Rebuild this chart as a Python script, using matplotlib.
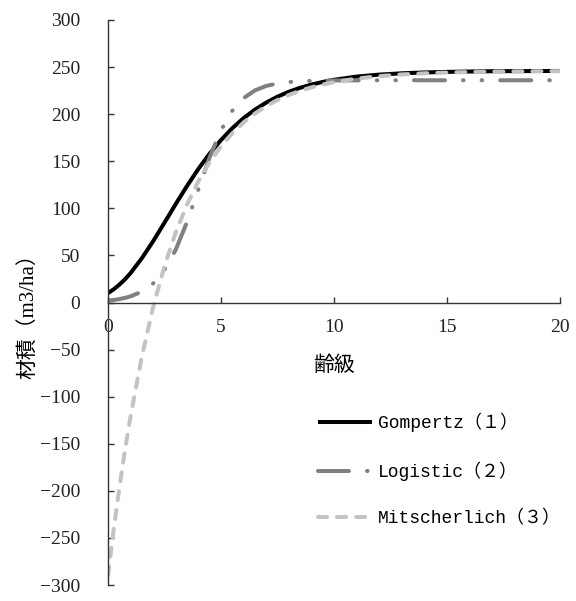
import numpy as np
import matplotlib
matplotlib.use('Agg')
import matplotlib.pyplot as plt
from matplotlib.font_manager import FontProperties

plt.rcParams['lines.scale_dashes'] = False
plt.rcParams['xtick.direction'] = 'in'
plt.rcParams['ytick.direction'] = 'in'
plt.rcParams['xtick.major.pad'] = 12
plt.rcParams['ytick.major.pad'] = 20

# age class
age = np.array([0, 0.25, 0.5, 0.75, 1, 1.5, 2, 2.5, 3, 3.5, 4, 4.5, 5, 5.5, 6, 6.5,
                7, 7.5, 8, 8.5, 9, 9.5, 10, 11, 12, 13, 14, 15, 16, 17, 18, 19, 20])

gompertz = np.array([10.0, 14.0, 18.9, 24.6, 31.3, 47.1, 65.2, 84.8, 104.7, 123.9, 141.9,
                     158.2, 172.5, 185.1, 195.8, 204.8, 212.3, 218.6, 223.8, 228.0, 231.4,
                     234.2, 236.5, 239.9, 242.0, 243.4, 244.3, 244.9, 245.3, 245.6, 245.7,
                     245.8, 245.9])

logistic = np.array([2.0, 2.7, 3.6, 4.9, 6.5, 11.6, 20.3, 34.6, 56.2, 85.7, 120.2, 154.4,
                     182.9, 203.6, 217.0, 225.2, 230.0, 232.6, 234.1, 235.0, 235.4, 235.7,
                     235.8, 235.9, 236.0, 236.0, 236.0, 236.0, 236.0, 236.0, 236.0, 236.0,
                     236.0])

mitscherlich = np.array([-290.0, -241.5, -197.3, -157.1, -120.6, -57.1, -4.7, 38.7, 74.6,
                         104.2, 128.8, 149.0, 165.8, 179.7, 191.2, 200.7, 208.5, 215.0,
                         220.4, 224.8, 228.5, 231.5, 234.0, 237.8, 240.4, 242.2, 243.4,
                         244.2, 244.8, 245.2, 245.4, 245.6, 245.7])

labels = ['Gompertz（１）', 'Logistic（２）', 'Mitscherlich（３）']

xticks = [0, 5, 10, 15, 20]
yticks = np.arange(-300, 301, 50)

tickfont = FontProperties(family=['Liberation Serif', 'Noto Sans CJK JP'], size=14)
labfont = FontProperties(family=['Liberation Serif', 'Noto Sans CJK JP'], size=15)
legfont = FontProperties(family=['Liberation Mono', 'Noto Sans CJK JP'], size=13)

fig = plt.figure(figsize=(5.76, 6.01), dpi=100)
ax = fig.add_axes([108/576, 16/601, 452/576, 565/601])

ax.plot(age, gompertz, color='black', lw=2.9, label=labels[0], solid_capstyle='butt')
ax.plot(age, logistic, color='#808080', lw=2.9, label=labels[1],
        dashes=[22.3, 13, 0.4, 13, 0.4, 13], dash_capstyle='round')
ax.plot(age, mitscherlich, color='#c3c3c3', lw=2.9, label=labels[2],
        dashes=[6.5, 7.2], dash_capstyle='round')

ax.set_xlim(0, 20)
ax.set_ylim(-300, 300)
ax.set_xticks(xticks)
ax.set_yticks(yticks)
ax.spines['top'].set_visible(False)
ax.spines['right'].set_visible(False)
ax.spines['bottom'].set_position(('data', 0))
for s in ('left', 'bottom'):
    ax.spines[s].set_linewidth(1.0)
    ax.spines[s].set_color('#333333')
ax.tick_params(length=4.5, width=1.0, color='#333333')
for lab in ax.get_xticklabels() + ax.get_yticklabels():
    lab.set_fontproperties(tickfont)
    lab.set_color('#222222')

ax.set_xlabel('齢級', fontproperties=labfont)
ax.xaxis.set_label_coords(0.5, 0.404)
ax.set_ylabel('材積（m3/ha）', fontproperties=labfont)
ax.yaxis.set_label_coords(-0.155, 0.485)

ax.legend(loc='upper left', bbox_to_anchor=(318/576, 1 - 413/601),
          bbox_transform=fig.transFigure, frameon=False, prop=legfont,
          borderpad=0, borderaxespad=0, handlelength=3.0, handletextpad=0.3,
          labelspacing=1.6)

fig.savefig('out.png', dpi=100)
